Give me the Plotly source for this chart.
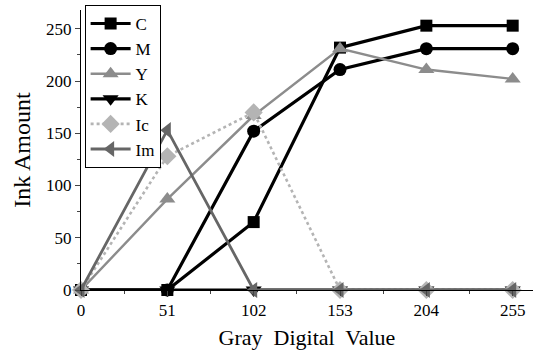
import plotly.graph_objects as go

gray_values = [0, 51, 102, 153, 204, 255]
ink_c = [0, 0, 65, 232, 253, 253]
ink_m = [0, 0, 152, 211, 231, 231]
ink_y = [0, 87, 167, 231, 211, 202]
ink_k = [0, 0, 0, 0, 0, 0]
ink_lc = [0, 128, 170, 0, 0, 0]
ink_lm = [0, 153, 0, 0, 0, 0]

series = [
    ("C", ink_c, "#000000", "square", "solid", 3.2, 12),
    ("M", ink_m, "#000000", "circle", "solid", 3.2, 13),
    ("Y", ink_y, "#8c8c8c", "triangle-up", "solid", 2.4, 14),
    ("K", ink_k, "#000000", "triangle-down", "solid", 3.2, 14),
    ("Ic", ink_lc, "#b4b4b4", "diamond", "dot", 2.6, 14),
    ("Im", ink_lm, "#666666", "triangle-left", "solid", 2.8, 14),
]

fig = go.Figure()
for name, vals, color, symbol, dash, width, size in series:
    fig.add_trace(go.Scatter(
        x=gray_values, y=vals, name=name, mode="lines+markers",
        line=dict(color=color, width=width, dash=dash),
        marker=dict(symbol=symbol, size=size, color=color),
        cliponaxis=False,
    ))

serif = "'Times New Roman', 'Liberation Serif', 'DejaVu Serif', serif"
fig.update_layout(
    width=536, height=356,
    margin=dict(l=81, r=3, t=10, b=66),
    plot_bgcolor="white", paper_bgcolor="white",
    font=dict(family=serif, color="black", size=16),
    showlegend=True,
    legend=dict(
        x=0.008, y=1.018, xanchor="left", yanchor="top",
        bordercolor="black", borderwidth=1, bgcolor="white",
        font=dict(family=serif, size=17),
        tracegroupgap=0, itemwidth=40,
    ),
    xaxis=dict(
        range=[0, 267], tickvals=gray_values, ticks="outside", ticklen=5,
        showline=True, linecolor="black", linewidth=1, showgrid=False,
        zeroline=False, tickfont=dict(family=serif, size=17),
        minor=dict(tickvals=[25.5, 76.5, 127.5, 178.5, 229.5], ticks="outside",
                   ticklen=3, showgrid=False),
        title=dict(text="Gray  Digital  Value", font=dict(family=serif, size=22), standoff=10),
    ),
    yaxis=dict(
        range=[0, 268], tickvals=[0, 50, 100, 150, 200, 250], ticks="outside",
        ticklen=5, showline=True, linecolor="black", linewidth=1,
        showgrid=False, zeroline=False, tickfont=dict(family=serif, size=17),
        minor=dict(tickvals=[25, 75, 125, 175, 225], ticks="outside",
                   ticklen=3, showgrid=False),
        title=dict(text="Ink Amount", font=dict(family=serif, size=24), standoff=8),
    ),
)

fig.write_html("out.html")
